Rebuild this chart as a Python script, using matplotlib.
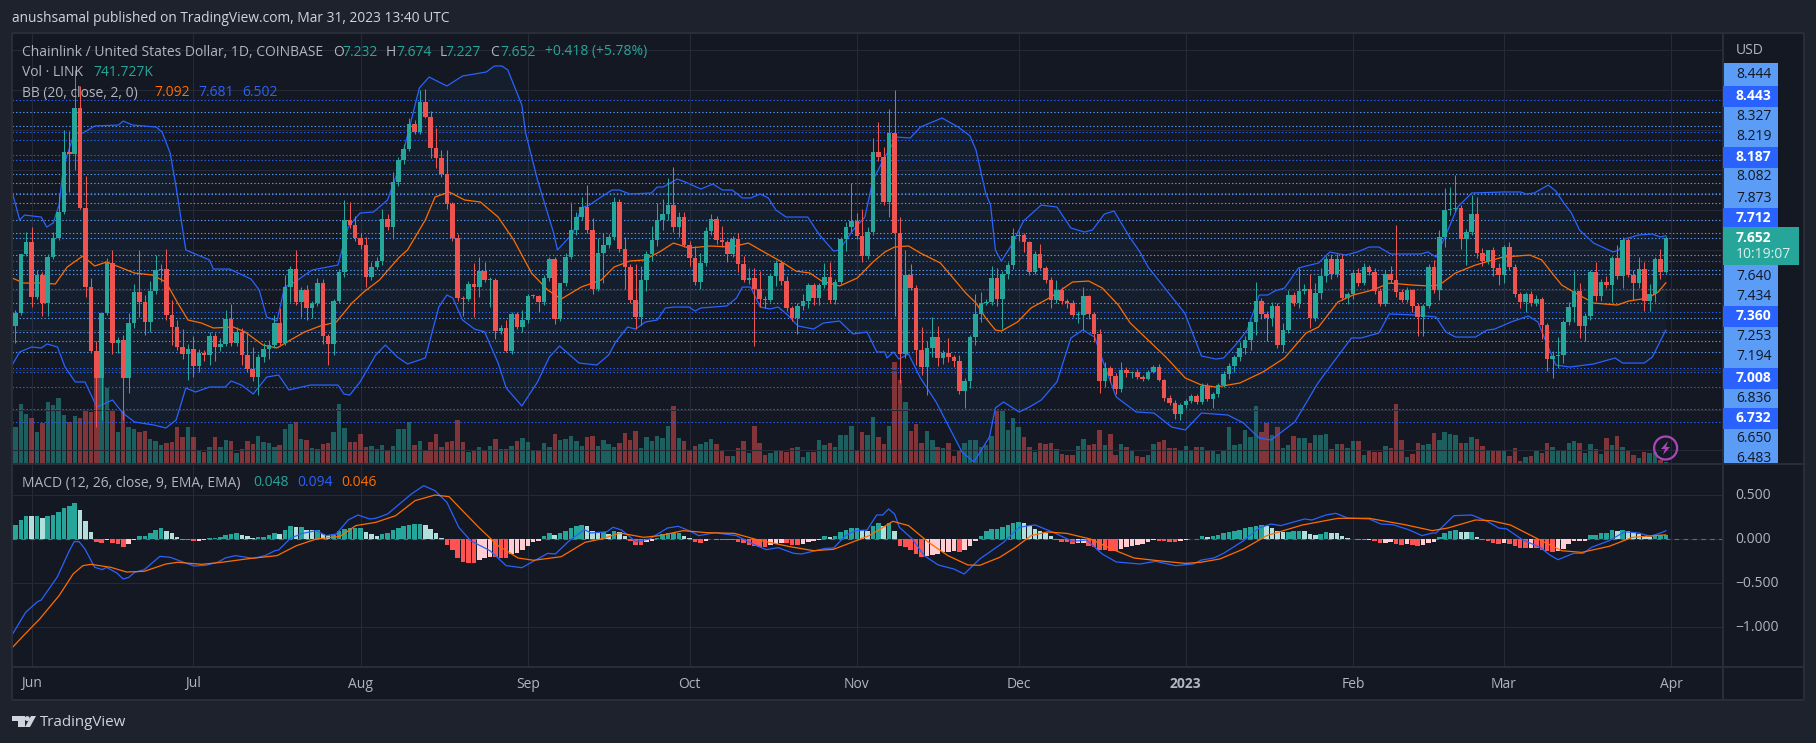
import numpy as np
import matplotlib
matplotlib.use("Agg")
import matplotlib.pyplot as plt
from matplotlib.patches import Rectangle, Polygon, Circle

plt.rcParams['font.family'] = ['Open Sans', 'DejaVu Sans']

first_open = 6.552
closes = [
6.714,7.452,7.602,6.914,7.189,6.839,7.414,7.652,7.977,8.727,
8.702,9.277,8.027,7.039,6.239,5.902,6.714,7.339,6.339,6.377,
5.902,6.589,6.977,6.852,6.602,6.989,7.252,7.264,6.689,6.539,
6.289,6.202,6.264,6.052,6.214,6.189,6.427,6.289,6.327,6.639,
6.339,6.477,6.189,6.014,5.914,6.164,6.264,6.314,6.589,6.339,
7.039,7.264,6.852,7.002,6.777,6.839,7.089,6.427,6.327,6.864,
7.227,7.877,7.814,7.652,7.564,7.164,7.289,7.364,7.889,7.789,
8.352,8.627,8.764,9.077,8.977,9.352,9.164,8.777,8.652,8.452,
8.077,7.652,6.902,6.889,7.077,7.039,7.239,7.127,7.127,6.489,
6.527,6.239,6.702,6.539,6.627,6.927,6.927,6.852,7.152,7.389,
6.639,7.089,7.414,7.752,7.914,8.039,7.752,7.014,7.464,7.564,
7.664,8.102,7.514,7.289,6.877,6.664,7.127,7.452,7.627,7.877,
7.952,8.064,7.789,7.914,7.564,7.402,7.102,7.339,7.739,7.889,
7.627,7.602,7.452,7.639,7.327,7.127,7.152,7.014,6.889,6.877,
7.177,7.339,7.114,6.777,6.652,6.802,6.864,7.064,6.902,7.064,
7.164,6.877,7.102,7.639,7.789,7.864,7.677,7.427,7.727,8.727,
8.664,8.102,8.964,7.714,6.202,7.189,7.027,6.252,6.039,6.277,
6.414,6.152,6.214,6.164,6.114,5.739,5.864,6.414,6.702,6.839,
6.852,7.152,6.889,7.202,7.314,7.677,7.689,7.602,7.227,7.452,
7.277,7.127,6.877,7.002,6.864,6.839,6.689,6.689,6.927,6.702,
6.452,5.864,6.027,5.927,5.764,6.002,5.964,5.977,5.914,5.889,
5.977,6.039,5.877,5.652,5.589,5.452,5.564,5.614,5.677,5.602,
5.802,5.639,5.702,5.814,5.952,6.052,6.164,6.277,6.377,6.602,
6.864,6.702,6.652,6.802,6.314,6.502,6.939,6.839,6.989,7.014,
6.652,6.964,7.177,7.389,7.202,7.389,6.902,6.952,7.214,7.089,
7.289,7.227,6.989,6.827,7.202,7.127,6.977,6.877,7.002,6.802,
6.664,6.802,7.289,7.002,7.664,8.002,8.014,8.027,7.639,7.727,
7.952,7.464,7.364,7.502,7.277,7.189,7.539,7.289,6.952,6.852,
6.952,6.839,6.889,6.564,6.139,6.177,6.189,6.602,6.789,6.989,
6.552,6.677,7.227,6.927,7.102,7.064,7.402,7.177,7.627,7.189,
7.089,7.264,6.864,6.952,7.389,7.227,7.652]

upper_wicks = [
.04,0,.13,.19,.06,.04,.04,.08,.21,.28,
.26,.48,.28,.40,.11,.13,0,.06,.16,.04,
.06,.13,.10,.53,.09,.13,.19,.06,.25,.19,
.09,.23,.06,.16,.05,.04,.05,.04,.08,.11,
.19,.06,.05,.28,.28,.04,.08,.06,.10,.19,
.15,.04,.24,.04,.06,.03,.06,.05,.03,.03,
.04,.25,.23,.11,.06,.10,.06,.05,.13,.06,
.13,.04,.06,.08,.05,.15,.16,.08,.25,.10,
.30,.03,.05,.03,.04,.26,.18,.11,.04,.03,
.04,.10,.03,.03,.13,.03,.03,.01,.04,.03,
.03,0,.05,.35,.06,.13,.28,.15,.19,.15,
.04,.06,.04,.15,.04,.45,.18,.04,.18,.21,
.19,.34,.48,.06,.06,.05,.15,.13,.05,.06,
.04,.18,.03,.04,.08,.10,.13,.13,.23,.04,
.04,.04,.04,.06,.03,.04,.09,.03,.03,.03,
.18,.19,.04,.03,.06,.48,.10,.34,.06,.18,
.38,.13,.30,.54,.20,.31,.14,.04,.29,.09,
.25,.14,.04,.19,.03,.08,.04,.03,.25,.14,
.04,.15,.13,.04,.04,.10,.05,.03,.01,.04,
.13,.03,.04,.13,.04,.03,.04,.05,.11,.01,
.03,.06,.08,.03,.04,.10,.04,.01,.04,.03,
.03,.03,.04,.01,.04,.04,.03,.03,.03,.03,
.04,.04,.03,.03,.04,.04,.03,.08,.05,.01,
.24,.04,.04,.05,.04,.09,.06,.04,.29,.06,
.19,.13,.10,.04,.06,.06,.06,.03,.04,.06,
.05,.03,.05,.04,.05,.10,.69,.04,.04,.01,
.04,.03,.04,.09,.09,.28,.28,.41,.04,.04,
.24,.21,.06,0,.04,.06,.03,.06,.04,.03,
.03,.04,.05,.03,.03,.06,.23,.03,.06,.25,
.10,.04,.03,.13,.04,.08,.03,.16,.04,.03,
.06,.15,.09,.13,.03,.13,.02]

lower_wicks = [
.21,.03,.02,.13,.02,.16,.16,.02,.02,.02,
.48,.20,.01,.13,.03,.61,.53,.03,.14,.13,
.53,.19,.06,.19,.16,.13,.04,.15,.06,.23,
.04,.06,.33,.14,.08,.08,.13,.18,.05,.03,
.04,.04,.13,.04,.05,.23,.06,.13,.04,.03,
.03,.19,.04,.19,.15,.13,.04,.10,.26,.14,
.03,.06,.04,.04,.05,.13,.04,.03,.05,.04,
.15,.05,.05,.03,.03,.03,.01,.13,.13,.04,
.06,.04,.04,.21,.03,.38,.13,.03,.34,.10,
.04,.01,.04,.03,.06,.04,.03,.13,.04,.04,
.06,.03,.04,.03,.06,.04,.04,.06,.03,.38,
.04,.04,.04,.28,.04,.15,.10,.14,.09,.08,
.13,.08,.06,.13,.03,.10,.04,.09,.04,.05,
.05,.06,.10,.04,.10,.03,.05,.71,.10,.10,
.03,.13,.05,.04,.04,.20,.05,.09,.09,.09,
.04,.04,.05,.03,.15,.06,.04,.08,.04,.04,
.05,.04,.19,1.04,.36,.05,.03,.19,.10,.35,
.11,.10,.08,.06,.08,.04,.21,.09,.10,.10,
.03,.04,.09,.38,.06,.05,.06,.13,.04,.03,
.01,.04,.10,.04,.04,.06,.03,.10,.19,.06,
.10,.15,.08,.08,.06,.04,.05,.06,.03,.03,
.01,.01,.01,.04,.03,.06,.08,.04,.03,.03,
.03,.03,.11,.04,.03,.06,.08,.05,.08,.13,
.16,.06,.29,.10,.04,.09,.04,.04,.06,.04,
.13,.04,.08,.08,.06,.04,.03,.08,.06,.04,
.03,.04,.04,.03,.03,.04,.06,.03,.03,.08,
.24,.24,.03,.04,.13,.13,.06,.03,.13,.33,
.04,.06,.06,.04,.10,.13,.10,.04,.04,.08,
.13,.04,.04,.18,.15,.24,.15,.10,.04,.19,
.15,.19,.05,.06,.06,.04,.21,.04,.15,.03,
.21,.06,.13,.13,.10,.09,.01]

volumes_m = [
12.4,20.0,16.7,15.2,10.8,13.6,20.7,19.7,22.1,16.3,
14.0,16.1,15.4,18.0,17.4,36.3,28.6,25.4,18.0,10.6,
17.8,12.4,11.7,10.8,11.0,8.3,7.7,6.3,7.1,7.4,
12.4,8.9,12.4,9.1,4.7,4.1,5.8,9.1,5.6,8.0,
7.7,3.6,4.9,7.8,6.7,9.3,7.4,7.1,5.8,6.3,
11.7,13.3,13.9,8.3,8.0,5.2,5.0,6.7,7.1,10.8,
20.0,12.1,7.4,7.4,10.0,5.8,6.0,5.0,6.3,4.7,
6.0,11.7,11.7,13.9,6.3,7.8,4.4,7.4,10.0,5.8,
7.4,7.8,14.7,7.2,4.1,4.3,5.8,4.4,6.0,8.3,
4.9,5.0,6.0,7.8,8.6,7.2,4.7,4.4,6.9,5.8,
9.9,8.0,8.3,9.4,7.7,6.1,8.9,9.4,6.1,8.0,
6.7,5.8,7.1,10.4,8.0,11.0,5.3,9.1,7.6,9.3,
8.6,12.7,19.3,8.6,7.7,4.7,6.1,6.7,7.4,8.3,
6.7,4.7,2.7,2.7,5.3,7.7,3.6,12.7,6.9,3.0,
3.8,4.3,4.7,4.1,5.3,5.8,2.2,4.1,4.1,8.0,
6.3,7.1,5.8,9.7,9.7,12.7,4.7,10.7,9.7,15.7,
9.1,6.7,12.7,34.0,28.0,20.7,11.0,13.3,6.9,11.0,
8.0,5.8,5.2,7.1,2.7,4.4,6.9,8.0,8.0,5.8,
6.3,9.3,17.7,17.7,11.3,15.4,12.4,9.0,5.8,4.1,
6.9,6.7,7.1,5.0,3.3,3.0,3.0,6.0,8.2,6.3,
6.7,11.3,6.3,10.0,3.1,6.7,5.8,4.7,2.7,2.4,
3.0,6.7,7.4,8.0,5.2,5.3,4.7,6.0,4.3,5.8,
5.8,4.3,4.7,3.3,4.7,12.2,6.3,6.7,11.3,8.9,
19.3,10.8,13.8,9.7,12.4,5.2,6.3,9.3,8.6,8.6,
7.1,9.7,9.7,10.0,5.0,6.6,6.6,5.4,7.7,7.7,
3.0,4.7,4.1,4.1,6.0,5.4,20.0,8.0,2.2,3.3,
7.1,6.3,6.7,10.2,8.0,10.7,9.9,9.7,7.1,6.9,
9.1,8.2,6.0,4.4,4.7,4.7,4.3,2.7,5.2,1.1,
2.2,2.7,4.3,3.6,7.1,5.8,4.7,4.4,7.1,7.7,
6.9,3.6,6.6,4.9,3.3,8.6,6.3,9.3,5.6,4.7,
3.0,1.9,4.1,3.8,4.1,1.3,0.742]

macd_hist = [
.163,.216,.265,.258,.258,.235,.258,.273,.311,.348,.371,.409,.333,.208,.083,-.038,
-.049,-.011,-.049,-.061,-.095,-.061,-.011,.030,.030,.064,.102,.121,.087,.064,.019,
-.008,-.011,-.027,-.019,-.008,.008,.011,.023,.049,.057,.064,.045,.030,.008,.023,.027,
.049,.068,.057,.106,.144,.136,.136,.106,.098,.098,.053,.042,.042,.087,.114,.121,.125,
.125,.076,.053,.038,.061,.064,.098,.121,.144,.163,.167,.167,.155,.114,.064,.008,
-.064,-.129,-.212,-.258,-.269,-.269,-.235,-.216,-.205,-.208,-.212,-.212,-.174,-.159,
-.121,-.076,-.038,-.019,.030,.064,.042,.064,.087,.121,.144,.163,.152,.091,.076,
.076,.061,.095,.076,.030,-.027,-.068,-.068,-.038,-.019,.011,.057,.068,.068,.068,.038,.008,
-.038,-.045,-.019,.004,-.008,-.008,-.011,-.015,-.030,-.049,-.064,-.076,-.091,-.095,-.068,
-.053,-.045,-.045,-.064,-.068,-.057,-.038,-.023,-.011,.030,.019,.030,.076,.106,.121,.121,
.106,.095,.152,.182,.152,.182,.095,-.076,-.095,-.121,-.170,-.208,-.197,-.182,-.170,-.152,
-.144,-.136,-.144,-.125,-.076,-.019,.038,.095,.114,.117,.133,.159,.182,.189,.182,.144,.114,
.095,.064,.030,-.008,-.030,-.038,-.057,-.049,-.045,-.076,-.095,-.121,-.125,-.133,-.133,
-.114,-.095,-.083,-.068,-.053,-.030,-.011,-.019,-.027,-.030,-.038,-.023,-.011,-.004,.004,
.030,.027,.038,.049,.064,.083,.095,.102,.121,.140,.152,.159,.144,.121,.095,.083,.083,.087,
.091,.087,.057,.049,.057,.076,.068,.064,.030,.008,.004,-.011,-.011,-.008,-.027,-.049,-.042,
-.038,-.057,-.064,-.061,-.068,-.076,-.068,-.045,-.038,.019,.068,.095,.106,.083,.076,.076,
.027,-.008,-.027,-.049,-.057,-.049,-.057,-.083,-.106,-.106,-.098,-.106,-.121,-.136,-.144,
-.140,-.114,-.057,-.027,-.023,-.019,.045,.049,.064,.072,.098,.095,.106,.095,.076,.057,.038,
.027,.030,.045,.048]

bb_upper_x = [-.6,.8,1.7,4.8,5.8,7,8.1,8.9,10.9,12.5,14.7,19.1,20,21.7,26.1,27.2,28.7,29.8,31.6,36,36.7,39.7,43.7,45.2,46.6,48.5,49.9,51.8,55,59.8,61.7,63.9,66.4,69,71.2,74.9,76.7,80,82.9,87.3,88.8,90.2,91.3,93.9,94.6,96.8,99.8,100.5,103.4,104.9,106.4,108.6,110.6,112,113.9,117.9,119,120.1,122.7,124.2,127.1,129.3,131.1,132.9,134.8,136.3,138.1,139.6,141,142.9,146.9,149.1,151.7,152.8,155.3,157.5,159,161.2,163.4,165.9,167.8,171.8,174.8,177,178.1,179.9,180.8,181.7,182.8,184.7,186.9,190.2,193.1,195.7,198.2,199.7,201.9,203.7,206.7,208.5,210,216.8,219.9,222.6,224,226.2,228.4,230.6,232.2,233.5,235.3,237.9,239.3,241.6,243.7,246.6,248.8,251,252.8,255,260.5,261.9,263.4,265.6,267.4,270,275.8,279.1,280.1,281.6,284.2,285.6,287.1,288.5,290,292.6,296.2,297.3,298.4,300.9,303.5,305,306]
bb_upper = [8.227,7.877,7.939,7.914,7.789,7.839,8.064,8.539,8.964,8.964,9.052,9.064,9.114,9.064,9.039,8.977,8.714,8.289,7.502,7.377,7.264,7.264,7.139,7.002,6.664,6.614,7.039,7.102,7.252,7.314,7.789,7.964,7.977,8.127,8.539,9.527,9.664,9.552,9.677,9.727,9.802,9.802,9.752,9.314,8.964,8.377,7.714,7.502,7.714,8.027,8.064,8.164,8.252,8.252,8.202,8.214,8.289,8.289,8.389,8.352,8.264,8.327,8.252,8.252,8.152,8.152,8.202,8.152,8.002,7.914,7.914,7.689,7.489,7.502,7.752,7.914,8.377,8.664,8.914,8.902,9.039,9.152,9.039,8.927,8.752,8.214,8.064,7.502,7.364,7.564,7.864,8.064,8.039,7.777,7.727,7.752,7.952,7.989,7.652,7.477,7.289,6.714,6.177,6.139,6.152,6.314,6.502,6.939,6.939,6.989,7.027,7.277,7.302,7.339,7.477,7.439,7.477,7.539,7.539,7.452,7.452,7.477,7.414,7.752,8.039,8.214,8.227,8.227,8.202,8.214,8.314,8.239,8.089,7.964,7.752,7.589,7.477,7.502,7.639,7.689,7.702,7.664,7.681]

bb_basis_x = [-.6,1.5,4.5,7.4,9.6,12.5,14.7,16.9,22.1,25.4,27.9,30.1,32,34.5,36.7,40.4,42.6,45.9,48.5,51,53.6,56.5,59.5,62.4,64.6,67.5,71.2,72.7,76,77.8,80.4,83.3,86.2,89.5,92.4,95.7,98.7,101.2,104.9,108.6,111,113.9,116.5,119.4,122,124.9,128.9,132.6,135.9,138.8,142.1,144.7,147.3,149.5,152.8,156.1,159,161.2,163,165.6,167.8,171.5,173.7,176.2,178.1,179.9,181.7,182.8,185.8,188.3,192,196,199,201.5,204.5,206.7,210,213.3,216.9,219.9,222.6,227,231.3,235.3,239.3,241.6,245.2,248,251.7,254.7,259,262,264,267,270.7,275.8,280.8,283,285.2,286.7,288.9,292.6,297,299.1,302.7,304.6,306]
bb_basis = [7.152,7.089,7.089,7.077,7.289,7.427,7.302,7.352,7.214,7.189,7.102,6.839,6.627,6.589,6.527,6.539,6.477,6.314,6.277,6.377,6.477,6.552,6.602,6.839,6.977,7.127,7.414,7.502,7.877,8.164,8.227,8.127,8.102,7.914,7.627,7.214,7.002,6.889,7.039,7.127,7.289,7.364,7.377,7.477,7.589,7.527,7.552,7.539,7.589,7.477,7.352,7.239,7.214,7.114,7.052,7.152,7.352,7.477,7.539,7.552,7.464,7.339,7.164,6.964,6.839,6.652,6.502,6.489,6.602,6.777,6.914,7.102,7.114,7.027,6.814,6.589,6.377,6.164,5.902,5.814,5.789,5.839,5.977,6.152,6.464,6.539,6.852,6.939,7.002,7.089,7.064,7.052,7.064,7.214,7.314,7.414,7.439,7.377,7.189,7.064,6.977,6.839,6.814,6.864,6.902,6.977,7.092]

bb_lower_x = [-.6,.8,3,4.8,5.9,7.8,9.2,11.1,12.9,15.1,18,19.9,22.1,25.7,27.9,29.8,31.6,33.4,36,38.9,40,41.9,44.1,46.6,48.8,50.7,54.7,59.8,60.9,62,63.9,66.8,68.6,70.8,72.7,76,78.5,80,81.1,82.9,85.1,87,89.5,91,93.9,96.8,99,100.9,104.5,107.8,110,111.3,113.5,115,116.8,119,120.5,122.3,124.9,126,127.1,131.9,133.7,134.8,136.3,138.1,139.9,141.4,143.2,145.1,148,149.8,152.8,155.3,157.9,159.7,161.2,161.6,162.8,163.8,165.6,167.8,170.7,175.5,177.7,180.6,181.7,183.2,186.1,188,190.2,193.1,195.7,197.9,200.1,201.9,204.1,207.8,211.1,214.4,216.9,219.9,224.8,227.7,230.6,232.8,237.2,241.5,243.7,247.7,249.5,252.8,254.7,259.7,263.4,265.2,267,270.7,272.9,274.3,277.3,280.5,282.3,283.8,285.6,288.2,292.6,296.6,298,302,303.5,306]
bb_lower = [6.064,6.227,6.289,6.277,6.327,6.289,6.039,5.852,5.852,5.539,5.627,5.464,5.352,5.314,5.277,5.377,5.777,5.727,5.789,5.789,5.864,5.814,5.702,5.914,5.939,5.752,5.814,5.814,5.702,5.689,5.852,6.189,6.314,6.164,6.077,6.152,6.789,6.939,6.902,6.627,6.514,6.477,6.089,5.777,5.552,5.852,6.164,6.302,6.089,6.064,6.189,6.352,6.539,6.514,6.602,6.627,6.777,6.789,6.789,6.739,6.777,6.802,6.902,7.039,7.039,6.789,6.764,6.789,6.689,6.552,6.514,6.589,6.614,6.452,6.477,6.227,6.227,6.152,6.227,6.139,6.202,5.902,5.602,4.977,4.852,5.164,5.527,5.602,5.477,5.539,5.627,5.852,6.402,6.502,6.414,6.064,5.664,5.477,5.464,5.289,5.252,5.464,5.439,5.339,5.152,5.127,5.352,5.839,6.039,6.402,6.402,6.464,6.702,6.689,6.664,6.477,6.414,6.414,6.502,6.514,6.602,6.677,6.602,6.352,6.064,6.039,6.077,6.152,6.089,6.089,6.164,6.502]

macd_line_x = [-.7,1.9,4.1,4.8,7.8,10,10.9,11.8,12.9,14.7,16.1,16.9,18.8,20,21,22.1,23.9,26.8,28.7,33.1,35.3,37.5,38.9,40.8,44.1,46.3,48.1,48.8,51,53.2,55.8,57.6,59.5,61.7,63.5,65.7,66.8,69,73.4,75.7,77.8,80,82.2,84.4,88,91,93.9,98.7,100.1,102.7,105.5,106.7,109.7,110.8,112.4,115,117.6,120.9,122.9,124.9,126.7,129.7,133.7,137,139.2,141.4,144.3,145.8,150.2,151.7,153.9,155.7,157.9,159.7,160.8,161.9,163,163.9,166.3,168.5,171.1,174,175.9,178.8,181,183.2,186.1,188,189.1,192.4,196,198.6,201.5,204.1,208.5,211.4,215.1,218.4,219.9,222.2,224,227.7,230.6,232.8,234.6,239,240.4,243,244.8,247,251,253.2,255.4,258.3,260.8,262.7,263.4,266.7,270,272.9,275,276.5,279.4,282.7,284.5,286,288.9,290.7,292.2,295.5,298.4,301,303.1,305,306]
macd_line = [-1.098,-.833,-.712,-.693,-.428,-.133,-.030,-.030,-.114,-.322,-.348,-.322,-.386,-.455,-.436,-.379,-.348,-.197,-.208,-.307,-.299,-.265,-.216,-.189,-.220,-.189,-.133,-.125,.008,.064,.095,.038,.057,.216,.273,.227,.235,.284,.511,.606,.549,.417,.133,-.019,-.133,-.303,-.326,-.163,-.170,-.019,.106,.068,.083,.133,.102,-.030,0,.125,.144,.095,.038,.072,.038,-.064,-.121,-.098,-.163,-.170,-.106,-.102,.038,.095,.102,.273,.273,.341,.284,.133,0,-.189,-.295,-.341,-.398,-.227,-.133,-.038,.133,.152,.159,.076,-.027,-.011,-.170,-.261,-.284,-.254,-.303,-.284,-.239,-.216,-.163,-.019,.125,.170,.152,.227,.216,.273,.292,.239,.227,.170,.163,.106,.038,.068,.068,.265,.273,.201,.125,.114,-.008,-.095,-.182,-.235,-.163,-.163,-.095,-.019,.083,.068,.030,.068,.094]

macd_signal_x = [-.7,1.5,4.5,8.1,10.7,12.5,14,17.7,20.6,23.9,27.9,30.1,34.5,38.2,43.3,48.5,52.1,55.8,60.2,63.1,66.8,70.5,74.1,77.8,80.4,82.9,85.9,89.5,93.2,96.1,101.2,105.6,108.6,112.1,116.5,119.4,123.8,128.2,133.3,137.7,143.6,148,151.7,154.6,158.3,162.7,165.6,169.3,172.9,176.6,178.8,182.5,185.4,188.3,191.3,194.9,199.3,203.7,207.4,211.8,216.9,219.7,223.3,227.7,232,238.6,245.2,251,257.6,262.7,265.6,270.7,273.6,277.2,282.3,286.7,290.4,295.5,299.8,305.7,306]
macd_signal = [-1.242,-1.098,-.909,-.644,-.398,-.303,-.288,-.322,-.375,-.367,-.284,-.265,-.288,-.265,-.223,-.189,-.076,0,.030,.152,.189,.265,.436,.500,.481,.322,.133,-.076,-.216,-.242,-.201,-.038,0,.068,.019,.038,.095,.072,.064,-.011,-.087,-.133,-.117,-.049,.038,.201,.152,-.038,-.189,-.295,-.299,-.208,-.095,.038,.080,.064,0,-.125,-.216,-.246,-.277,-.265,-.227,-.114,.038,.159,.235,.235,.163,.095,.125,.216,.208,.159,0,-.133,-.152,-.083,.019,.046,.046]

levels_strong = [9.377,8.977,8.877,8.689,8.627,8.218,7.364,7.014,6.727,6.027,5.977,5.789,5.514,5.352]
levels_soft = [9.227,9.056,8.452,8.339,8.202,8.089,7.877,7.714,7.656,7.436,7.252,7.202,6.839,6.652,6.477,6.364,6.227]

month_bars = [3,33,64,95,125,156,186,217,248,276,307]
month_names = ['Jun','Jul','Aug','Sep','Oct','Nov','Dec','2023','Feb','Mar','Apr']

price_labels = ['8.444','8.443','8.327','8.219','8.187','8.082','7.873','7.712','7.640','7.434','7.360','7.253','7.194','7.008','6.836','6.732','6.650','6.483']
strong_labels = {'8.443','8.187','7.712','7.360','7.008','6.732'}
macd_ticks = [0.5, 0.0, -0.5, -1.0]
macd_tick_labels = ['0.500','0.000','\u22120.500','\u22121.000']

# ---------- layout (pixels) ----------
W, H = 1816, 743
L, R, RO = 12, 1723, 1804
T, MB, MAB, TB = 33, 464, 667, 700
BG, PANE, GRID = '#1e222d', '#141823', '#262a36'
UP, DOWN = '#26a69a', '#ef5350'
BLUE, ORANGE = '#2962ff', '#ff6d00'
LIGHT = '#5b9cf6'
TXT = '#b2b5be'

fig = plt.figure(figsize=(W / 100, H / 100), dpi=100, facecolor=BG)

def box(l, t, r, b, **kw):
    return fig.add_axes([l / W, 1 - b / H, (r - l) / W, (b - t) / H], **kw)

bg = fig.add_axes([0, 0, 1, 1], zorder=0)
bg.set_xlim(0, W); bg.set_ylim(H, 0); bg.axis('off')
bg.add_patch(Rectangle((L, T), RO - L, TB - T, fc=PANE, ec='none'))

opens = np.array([first_open] + closes[:-1])
closes_a = np.array(closes)
idx = np.arange(len(closes))
highs = np.maximum(opens, closes_a) + np.array(upper_wicks)
lows = np.minimum(opens, closes_a) - np.array(lower_wicks)
up = closes_a >= opens
xlim = (-0.63, 316.6)

ax_v = box(L, T, R, MB, zorder=1)
ax_p = box(L, T, R, MB, zorder=2, sharex=ax_v)
ax_m = box(L, MB, R, MAB, zorder=2, sharex=ax_v)
for a in (ax_v, ax_p, ax_m):
    a.patch.set_alpha(0)
    a.set_xlim(*xlim)
    a.tick_params(left=False, bottom=False, labelleft=False, labelbottom=False)
    for s in a.spines.values():
        s.set_visible(False)

# grid
ax_v.set_ylim(0, (MB - T) / 3.0)
for m in month_bars:
    ax_v.axvline(m, color=GRID, lw=0.8, zorder=0)
    ax_m.axvline(m, color=GRID, lw=0.8, zorder=0)
ax_p.set_ylim(4.827, 10.2145)
for g in np.arange(5, 10.5, 0.5):
    ax_p.axhline(g, color=GRID, lw=0.8, zorder=0)

# volume
vcol = [UP if u else DOWN for u in up]
ax_v.bar(idx, volumes_m, width=0.82, color=vcol, alpha=0.5, lw=0)

# levels
for lv in levels_strong:
    ax_p.axhline(lv, color=BLUE, lw=0.8, ls=(0, (1.2, 2.0)), zorder=1)
for lv in levels_soft:
    ax_p.axhline(lv, color=LIGHT, lw=0.8, ls=(0, (1.2, 2.0)), zorder=1)

# Bollinger
gx = np.linspace(-0.6, 306, 900)
ax_p.fill_between(gx, np.interp(gx, bb_upper_x, bb_upper), np.interp(gx, bb_lower_x, bb_lower),
                  color='#2196f3', alpha=0.05, lw=0, zorder=1)
ax_p.plot(bb_upper_x, bb_upper, color=BLUE, lw=0.9, zorder=2)
ax_p.plot(bb_lower_x, bb_lower, color=BLUE, lw=0.9, zorder=2)
ax_p.plot(bb_basis_x, bb_basis, color=ORANGE, lw=0.9, zorder=2)

# candles
ccol = np.array([UP if u else DOWN for u in up])
ax_p.vlines(idx, lows, highs, colors=ccol, lw=0.75, zorder=3)
body_b = np.minimum(opens, closes_a)
body_h = np.maximum(np.abs(closes_a - opens), 0.012)
ax_p.bar(idx, body_h, bottom=body_b, width=0.84, color=ccol, lw=0, zorder=4)

# MACD
ax_m.set_ylim(-1.4545, 0.8523)
for t in macd_ticks:
    ax_m.axhline(t, color=GRID, lw=0.8, zorder=0)
ax_m.axhline(0, color='#787b86', lw=0.8, ls=(0, (4, 4)), zorder=1, alpha=0.8)
hist = np.array(macd_hist)
prev = np.r_[hist[0], hist[:-1]]
hcol = []
for h, p in zip(hist, prev):
    if h >= 0:
        hcol.append('#26a69a' if h >= p else '#b2dfdb')
    else:
        hcol.append('#ff5252' if h <= p else '#ffcdd2')
ax_m.bar(idx, hist, width=0.84, color=hcol, lw=0, zorder=2)
ax_m.plot(macd_line_x, macd_line, color=BLUE, lw=0.9, zorder=3)
ax_m.plot(macd_signal_x, macd_signal, color=ORANGE, lw=0.9, zorder=3)

# ---------- overlay ----------
ov = fig.add_axes([0, 0, 1, 1], zorder=5)
ov.set_xlim(0, W); ov.set_ylim(H, 0); ov.axis('off'); ov.patch.set_alpha(0)
BORDER = '#2a2e39'
for x0, y0, x1, y1 in [(L, T, RO, T), (L, MB, RO, MB), (L, MAB, RO, MAB), (L, TB, RO, TB),
                       (L, T, L, TB), (R, T, R, TB), (RO, T, RO, TB)]:
    ov.plot([x0, x1], [y0, y1], color=BORDER, lw=1.4, solid_capstyle='butt')

FS = 10.0
def txt(x, y, s, color=TXT, ha='left', size=FS, **kw):
    ov.text(x, y, s, color=color, ha=ha, va='center', fontsize=size, **kw)

txt(12, 18, 'anushsamal published on TradingView.com, Mar 31, 2023 13:40 UTC', color='#d1d4dc', size=9.9)
txt(22, 52, 'Chainlink / United States Dollar, 1D, COINBASE')
for x, s in [(333, 'O'), (386, 'H'), (440, 'L'), (490, 'C')]:
    txt(x, 52, s)
for x, s in [(342, '7.232'), (396, '7.674'), (445, '7.227'), (500, '7.652'), (545, '+0.418 (+5.78%)')]:
    txt(x, 52, s, color=UP)
txt(22, 72, 'Vol \u00b7 LINK')
txt(93, 72, '741.727K', color=UP)
txt(22, 93, 'BB (20, close, 2, 0)')
txt(154, 93, '7.092', color=ORANGE)
txt(198.5, 93, '7.681', color=BLUE)
txt(242, 93, '6.502', color=BLUE)
txt(22, 483, 'MACD (12, 26, close, 9, EMA, EMA)')
txt(253, 483, '0.048', color=UP)
txt(297, 483, '0.094', color=BLUE)
txt(341, 483, '0.046', color=ORANGE)

# price axis labels
label_ys = [75, 96, 116.7, 136, 157, 177, 198, 218, 276, 297, 316, 337, 357, 378, 399, 418, 439, 459]
txt(1736, 50, 'USD')
ov.add_patch(Rectangle((R, 63), 55, MB - 63, fc=LIGHT, ec='none', zorder=1))
for y, s in zip(label_ys, price_labels):
    if s in strong_labels:
        ov.add_patch(Rectangle((R, y - 10.5), 55, 21, fc=BLUE, ec='none', zorder=2))
        txt(1736, y, s, color='white', zorder=3, fontweight='bold')
    else:
        txt(1736, y, s, color='#131722', zorder=3)
ov.add_patch(Rectangle((R, 227), 76, 38, fc=UP, ec='none', zorder=4))
txt(1736, 238, '7.652', color='white', zorder=5, fontweight='bold')
txt(1736, 255, '10:19:07', color='#d8f0ec', zorder=5)

for t, s in zip(macd_ticks, macd_tick_labels):
    y = MB + (0.8523 - t) / (0.8523 + 1.4545) * (MAB - MB)
    txt(1735, y, s)

for m, s in zip(month_bars, month_names):
    x = L + (m - xlim[0]) / (xlim[1] - xlim[0]) * (R - L)
    txt(x, 684, s, ha='center', fontweight='bold' if s == '2023' else 'normal')

# lightning badge
ov.add_patch(Circle((1665.6, 448), 11.5, fc='none', ec='#ab47bc', lw=1.6))
ov.add_patch(Polygon([(1668, 441), (1661, 449), (1665, 449), (1663, 455), (1670, 447), (1666, 447)],
                     fc='#ab47bc', ec='none'))

# logo
LOGO = '#d1d4dc'
ov.add_patch(Polygon([(12, 716), (24.5, 716), (24.5, 727), (18, 727), (18, 721), (12, 721)], fc=LOGO, ec='none'))
ov.add_patch(Circle((27.3, 718.6), 2.5, fc=LOGO, ec='none'))
ov.add_patch(Polygon([(31, 716), (36, 716), (30, 727), (25, 727)], fc=LOGO, ec='none'))
txt(40, 722, 'TradingView', color=LOGO, size=10.9)

fig.savefig('out.png', dpi=100, facecolor=BG)
